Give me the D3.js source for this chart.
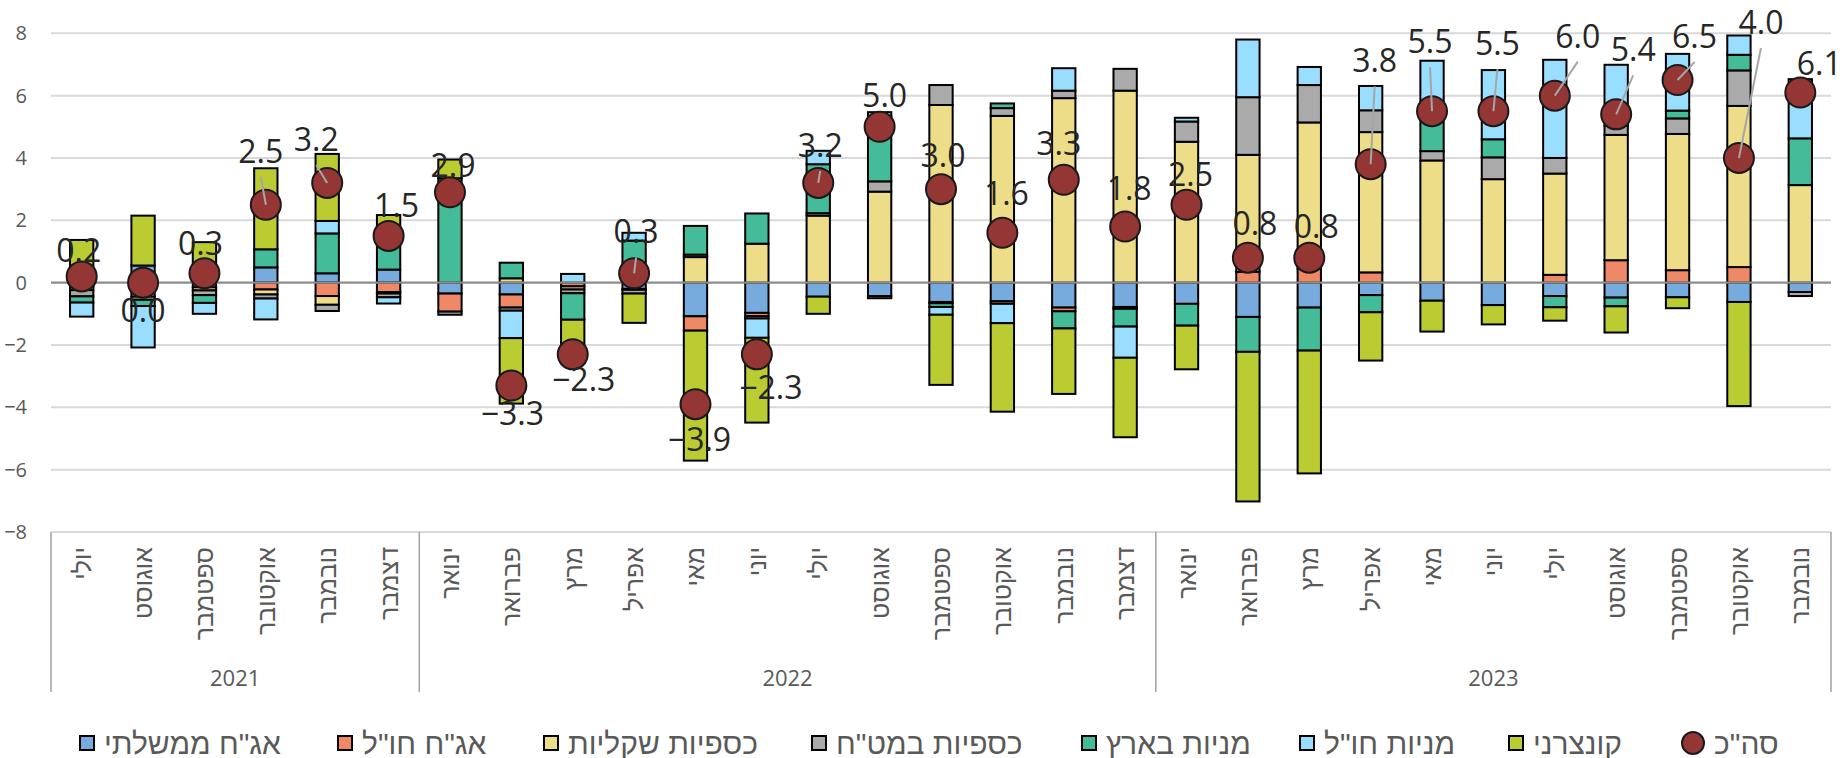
<!DOCTYPE html>
<html>
<head>
<meta charset="utf-8">
<script src="https://cdn.jsdelivr.net/npm/d3@7"></script>
<style>
  html, body { margin: 0; padding: 0; background: #ffffff; }
  svg { display: block; font-family: "Open Sans", "Liberation Sans", "DejaVu Sans", sans-serif; }
  .heb { font-family: "Liberation Sans", "DejaVu Sans", sans-serif; }
</style>
</head>
<body>
<svg id="chart" width="1845" height="758"></svg>
<script>
// ---- data ----
const months = ['יולי','אוגוסט','ספטמבר','אוקטובר','נובמבר','דצמבר',
  'ינואר','פברואר','מרץ','אפריל','מאי','יוני','יולי','אוגוסט','ספטמבר','אוקטובר','נובמבר','דצמבר',
  'ינואר','פברואר','מרץ','אפריל','מאי','יוני','יולי','אוגוסט','ספטמבר','אוקטובר','נובמבר'];
const years = ['2021', '2022', '2023'];
const monthsPerYear = [6, 12, 11];

const seriesNames = ['אג"ח ממשלתי', 'אג"ח חו"ל', 'כספיות שקליות', 'כספיות במט"ח', 'מניות בארץ', 'מניות חו"ל', 'קונצרני'];
const totalName = 'סה"כ';

const govBonds     = [-0.12, 0.55, 0.2, 0.49, 0.3, 0.42, -0.35, -0.38, 0, -0.2, -1.08, -0.97, -0.45, -0.43, -0.62, -0.6, -0.8, -0.78, -0.68, -1.1, -0.8, -0.4, -0.58, -0.72, -0.43, -0.48, -0.47, -0.62, -0.3];
const foreignBonds = [0, -0.15, -0.15, -0.22, -0.43, -0.3, -0.58, -0.42, -0.12, -0.03, -0.46, -0.1, 0, 0, -0.04, -0.08, -0.12, -0.06, 0, 0.35, 0.44, 0.33, 0, 0, 0.25, 0.72, 0.4, 0.5, 0];
const shekelMMF    = [-0.12, -0.3, -0.1, -0.16, -0.28, -0.05, 0, 0.14, -0.1, 0, 0.82, 1.25, 2.15, 2.92, 5.7, 5.35, 5.92, 6.16, 4.52, 3.75, 4.7, 4.5, 3.92, 3.32, 3.25, 4.02, 4.37, 5.17, 3.13];
const fxMMF        = [-0.2, -0.1, -0.15, -0.13, -0.2, -0.12, -0.1, -0.1, -0.12, -0.12, 0.08, -0.08, 0.08, 0.33, 0.64, 0.25, 0.24, 0.7, 0.65, 1.85, 1.2, 0.7, 0.3, 0.7, 0.5, 0.3, 0.5, 1.14, -0.13];
const domEquity    = [-0.2, -0.2, -0.25, 0.58, 1.28, 1.05, 3.35, 0.5, -0.85, 1.35, 0.92, 0.97, 1.57, 2.1, -0.12, 0.15, -0.55, -0.57, -0.7, -1.12, -1.38, -0.55, 1.2, 0.58, -0.36, -0.28, 0.25, 0.5, 1.5];
const forEquity    = [-0.45, -1.33, -0.35, -0.67, 0.4, -0.2, 0, -0.88, 0.28, 0.25, 0, -0.62, 0.43, 0.12, -0.25, -0.62, 0.72, -1.0, 0.12, 1.85, 0.58, 0.78, 1.7, 2.22, 3.15, 1.95, 1.82, 0.62, 1.9];
const corporate    = [1.37, 1.6, 1.1, 2.6, 2.15, 0.7, 0.6, -2.1, -1.4, -0.94, -4.17, -2.72, -0.55, -0.07, -2.25, -2.84, -2.1, -2.55, -1.4, -4.8, -3.94, -1.55, -0.99, -0.62, -0.43, -0.84, -0.35, -3.34, 0];
const totals       = [0.2, 0.0, 0.3, 2.5, 3.2, 1.5, 2.9, -3.3, -2.3, 0.3, -3.9, -2.3, 3.2, 5.0, 3.0, 1.6, 3.3, 1.8, 2.5, 0.8, 0.8, 3.8, 5.5, 5.5, 6.0, 5.4, 6.5, 4.0, 6.1];

const yTicks = [-8, -6, -4, -2, 0, 2, 4, 6, 8];

// ---- label placement (offset of each total label from its dot) ----
const labelShift = [[-3,-14],[0,39],[-4,-18],[-5,-42],[-11,-32],[8,-19],[3,-15],[1,39],[11,37],[2,-30],
  [4,47],[14,45],[2,-26],[5,-20],[2,-22],[4,-28],[-5,-25],[4,-27],[4,-19],[7,-23],[7,-20],
  [4,-92],[-2,-58],[4,-56],[23,-48],[17,-53],[17,-32],[22,-124],[19,-18]];
const withLeader = [3, 4, 9, 12, 21, 22, 23, 24, 25, 26, 27];

// legend item starting positions
const legendX = [80, 338, 544, 812, 1082, 1300, 1509, 1682];

// ---- styling ----
const colors = ['#77AADD', '#EE8866', '#EEDD88', '#AAAAAA', '#44BB99', '#99DDFF', '#BBCC33'];
const totalColor = '#943634';

(function draw() {
  const seriesValues = [govBonds, foreignBonds, shekelMMF, fxMMF, domEquity, forEquity, corporate];
  const rows = months.map((m, i) => {
    const r = { idx: i };
    seriesNames.forEach((s, k) => { r[s] = seriesValues[k][i]; });
    return r;
  });

  const svg = d3.select('#chart');
  const plotLeft = 51, plotRight = 1831, plotTop = 33.3, plotBottom = 532;

  const x = d3.scaleBand().domain(d3.range(months.length)).range([plotLeft, plotRight]).padding(0);
  const y = d3.scaleLinear().domain([-8, 8]).range([plotBottom, plotTop]);
  const barW = x.bandwidth() * 0.38;
  const cx = i => x(i) + x.bandwidth() / 2;

  // gridlines
  svg.append('g').selectAll('line').data(yTicks.filter(t => t !== 0)).join('line')
    .attr('x1', plotLeft).attr('x2', plotRight)
    .attr('y1', d => y(d)).attr('y2', d => y(d))
    .attr('stroke', '#D9D9D9').attr('stroke-width', 2);

  // y tick labels
  const yAxis = d3.axisLeft(y).tickValues(yTicks).tickSize(0).tickPadding(0).tickFormat(d3.format('d'));
  const yg = svg.append('g').attr('transform', 'translate(27,0)').call(yAxis);
  yg.select('.domain').remove();
  yg.selectAll('text').attr('font-size', 20).attr('fill', '#595959')
    .attr('font-family', '"Open Sans","Liberation Sans","DejaVu Sans",sans-serif');

  // stacked bars
  const stack = d3.stack().keys(seriesNames).offset(d3.stackOffsetDiverging).order(d3.stackOrderNone);
  const layers = stack(rows);

  const barsG = svg.append('g');
  layers.forEach((layer, k) => {
    barsG.append('g').selectAll('rect')
      .data(layer.filter(d => d[1] !== d[0]))
      .join('rect')
      .attr('x', d => x(d.data.idx) + (x.bandwidth() - barW) / 2)
      .attr('y', d => y(Math.max(d[0], d[1])))
      .attr('width', barW)
      .attr('height', d => Math.abs(y(d[0]) - y(d[1])))
      .attr('fill', colors[k])
      .attr('stroke', '#000')
      .attr('stroke-width', 2);
  });

  // zero line
  svg.append('line').attr('x1', plotLeft).attr('x2', plotRight)
    .attr('y1', y(0)).attr('y2', y(0))
    .attr('stroke', '#8C8C8C').attr('stroke-width', 2.2);

  // totals
  svg.append('g').selectAll('circle').data(totals).join('circle')
    .attr('cx', (d, i) => cx(i)).attr('cy', d => y(d)).attr('r', 15)
    .attr('fill', totalColor).attr('stroke', '#1a1a1a').attr('stroke-width', 2);

  // leader lines
  svg.append('g').selectAll('line').data(withLeader).join('line')
    .attr('x1', i => cx(i) + labelShift[i][0]).attr('y1', i => y(totals[i]) + labelShift[i][1] + 14)
    .attr('x2', i => cx(i)).attr('y2', i => y(totals[i]))
    .attr('stroke', '#A6A6A6').attr('stroke-width', 2);

  // total labels
  svg.append('g').selectAll('text').data(totals).join('text')
    .attr('x', (d, i) => cx(i) + labelShift[i][0])
    .attr('y', (d, i) => y(d) + labelShift[i][1])
    .attr('text-anchor', 'middle')
    .attr('font-size', 32).attr('fill', '#262626')
    .text(d => d3.format('.1f')(d));

  // category labels (months)
  svg.append('g').selectAll('text').data(months).join('text')
    .attr('class', 'heb')
    .attr('transform', (d, i) => `translate(${cx(i)},547) rotate(-90)`)
    .attr('text-anchor', 'end').attr('dominant-baseline', 'central')
    .attr('font-size', 25).attr('fill', '#595959')
    .text(d => d);

  // year groups
  let start = 0;
  const sepX = [plotLeft];
  years.forEach((yr, k) => {
    const end = start + monthsPerYear[k];
    const x0 = x(start), x1 = end < months.length ? x(end) : plotRight;
    sepX.push(x1);
    svg.append('text').attr('x', (x0 + x1) / 2).attr('y', 686)
      .attr('text-anchor', 'middle').attr('font-size', 22).attr('fill', '#595959').text(yr);
    start = end;
  });
  svg.append('g').selectAll('line').data(sepX).join('line')
    .attr('x1', d => d).attr('x2', d => d).attr('y1', plotBottom).attr('y2', 692)
    .attr('stroke', '#A0A0A0').attr('stroke-width', 1.5);

  // legend
  const legend = svg.append('g');
  const ly = 743;
  const legendItems = seriesNames.map((s, k) => ({ name: s, color: colors[k], round: false }))
    .concat([{ name: totalName, color: totalColor, round: true }]);
  legendItems.forEach((item, k) => {
    const lx = legendX[k];
    if (item.round) {
      legend.append('circle').attr('cx', lx + 11).attr('cy', ly).attr('r', 11)
        .attr('fill', item.color).attr('stroke', '#1a1a1a').attr('stroke-width', 2);
    } else {
      legend.append('rect').attr('x', lx).attr('y', ly - 7).attr('width', 14).attr('height', 14)
        .attr('fill', item.color).attr('stroke', '#000').attr('stroke-width', 2);
    }
    legend.append('text').attr('class', 'heb')
      .attr('x', lx + (item.round ? 32 : 24)).attr('y', ly)
      .attr('dominant-baseline', 'central').attr('font-size', 30).attr('fill', '#595959')
      .text(item.name);
  });
})();
</script>
</body>
</html>
